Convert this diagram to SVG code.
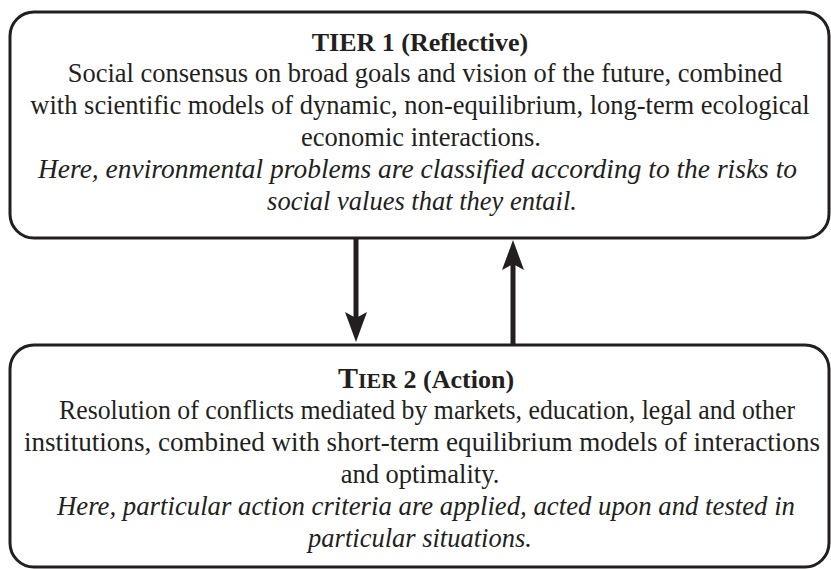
<svg xmlns="http://www.w3.org/2000/svg" width="831" height="569" viewBox="0 0 831 569">
  <style>
    .box { fill: #ffffff; stroke: #231f20; stroke-width: 3; }
    .txt { font-family: "Liberation Serif", "Times New Roman", serif; font-size: 26.5px; fill: #231f20; text-anchor: middle; }
    .it { font-style: italic; }
    .ttl { font-weight: bold; font-size: 26px; }
    .link { stroke: #231f20; stroke-width: 5; fill: none; marker-end: url(#head); }
  </style>
  <defs>
    <marker id="head" markerUnits="userSpaceOnUse" markerWidth="30" markerHeight="22" viewBox="0 0 30 22" refX="10" refY="11" orient="auto">
      <path d="M0,0 L30,11 L0,22 L6,11 Z" fill="#231f20"/>
    </marker>
  </defs>
  <rect width="831" height="569" fill="#ffffff"/>

  <g id="tier1">
    <rect class="box" x="10" y="12" width="819" height="226" rx="24" ry="24"/>
    <text class="txt ttl" x="420" y="51">TIER 1 (Reflective)</text>
    <text class="txt" x="425" y="82">Social consensus on broad goals and vision of the future, combined</text>
    <text class="txt" x="420" y="114">with scientific models of dynamic, non-equilibrium, long-term ecological</text>
    <text class="txt" x="421" y="146">economic interactions.</text>
    <text class="txt it" x="417.5" y="178" textLength="759" lengthAdjust="spacingAndGlyphs">Here, environmental problems are classified according to the risks to</text>
    <text class="txt it" x="422" y="210">social values that they entail.</text>
  </g>

  <g id="tier2">
    <rect class="box" x="10" y="345" width="819" height="222" rx="24" ry="24"/>
    <text class="txt ttl" x="426" y="388"><tspan font-size="30">T</tspan><tspan font-size="22">IER</tspan> 2 (Action)</text>
    <text class="txt" x="427" y="419" textLength="736" lengthAdjust="spacingAndGlyphs">Resolution of conflicts mediated by markets, education, legal and other</text>
    <text class="txt" x="422" y="451" textLength="796" lengthAdjust="spacingAndGlyphs">institutions, combined with short-term equilibrium models of interactions</text>
    <text class="txt" x="420" y="483">and optimality.</text>
    <text class="txt it" x="426" y="515" textLength="738" lengthAdjust="spacingAndGlyphs">Here, particular action criteria are applied, acted upon and tested in</text>
    <text class="txt it" x="420" y="547">particular situations.</text>
  </g>

  <g id="connectors">
    <line class="link" x1="356" y1="238" x2="356" y2="322"/>
    <line class="link" x1="513" y1="344" x2="513" y2="260"/>
  </g>
</svg>
